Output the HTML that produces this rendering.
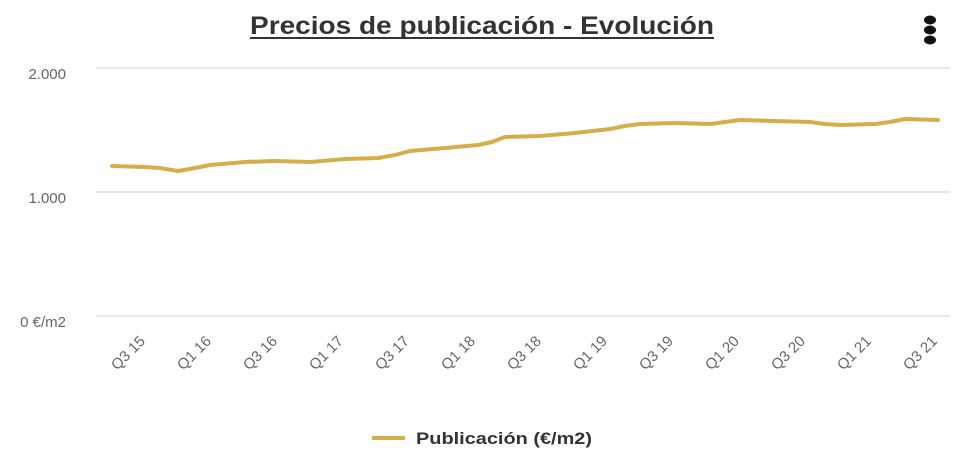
<!DOCTYPE html>
<html><head><meta charset="utf-8"><style>
body{margin:0;width:966px;height:462px;background:#fff;overflow:hidden;font-family:"Liberation Sans",sans-serif;}
</style></head><body>
<svg width="966" height="462" xmlns="http://www.w3.org/2000/svg" font-family="Liberation Sans, sans-serif">
<text x="250" y="34" font-size="25" font-weight="bold" fill="#333" textLength="464" lengthAdjust="spacingAndGlyphs">Precios de publicación - Evolución</text>
<line x1="250" y1="38" x2="714" y2="38" stroke="#333" stroke-width="2"/>
<ellipse cx="930" cy="20" rx="6" ry="4.5" fill="#111"/>
<ellipse cx="930" cy="30" rx="6" ry="4.5" fill="#111"/>
<ellipse cx="930" cy="40" rx="6" ry="4.5" fill="#111"/>
<g stroke="#e6e6e6" stroke-width="2">
<line x1="96" y1="68" x2="950" y2="68"/><line x1="96" y1="192" x2="950" y2="192"/><line x1="96" y1="316" x2="950" y2="316"/></g>
<g font-size="15" fill="#666" text-anchor="end">
<text x="66" y="79">2.000</text><text x="66" y="203">1.000</text><text x="66" y="327">0 €/m2</text></g>
<g font-size="15" fill="#666" text-anchor="end">
<text transform="translate(146,342) rotate(-45)">Q3 15</text>
<text transform="translate(212,342) rotate(-45)">Q1 16</text>
<text transform="translate(278,342) rotate(-45)">Q3 16</text>
<text transform="translate(344,342) rotate(-45)">Q1 17</text>
<text transform="translate(410,342) rotate(-45)">Q3 17</text>
<text transform="translate(476,342) rotate(-45)">Q1 18</text>
<text transform="translate(542,342) rotate(-45)">Q3 18</text>
<text transform="translate(608,342) rotate(-45)">Q1 19</text>
<text transform="translate(674,342) rotate(-45)">Q3 19</text>
<text transform="translate(740,342) rotate(-45)">Q1 20</text>
<text transform="translate(806,342) rotate(-45)">Q3 20</text>
<text transform="translate(872,342) rotate(-45)">Q1 21</text>
<text transform="translate(938,342) rotate(-45)">Q3 21</text>
</g>
<polyline fill="none" stroke="#d4ae48" stroke-width="4" stroke-linejoin="round" stroke-linecap="round" points="112,166 145,167 160,168 178,171 195,168 210,165 245,162 275,161 310,162 345,159 378,158 395,155 410,151 445,148 478,145 492,142 505,137 540,136 575,133 610,129 625,126 640,124 675,123 710,124 725,122 740,120 775,121 810,122 825,124 840,125 875,124 890,122 905,119 938,120"/>
<line x1="372" y1="438" x2="405" y2="438" stroke="#d4ae48" stroke-width="4"/>
<text x="416" y="444" font-size="17" font-weight="bold" fill="#333" textLength="176" lengthAdjust="spacingAndGlyphs">Publicación (€/m2)</text>
</svg>
</body></html>
